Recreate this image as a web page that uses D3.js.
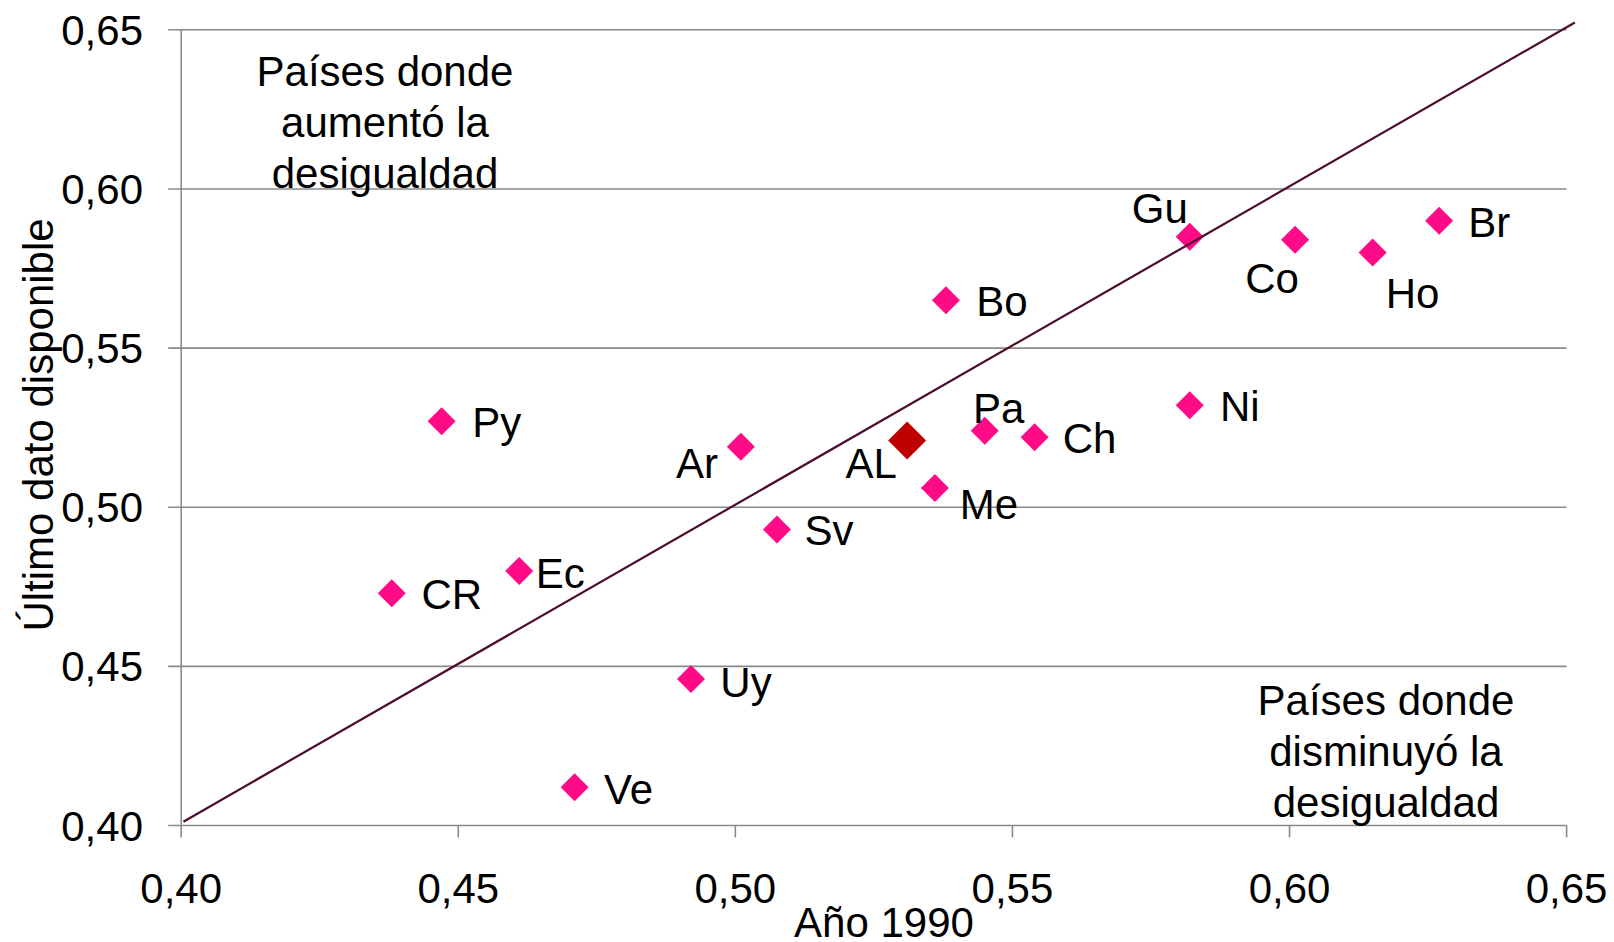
<!DOCTYPE html>
<html>
<head>
<meta charset="utf-8">
<script src="https://cdn.jsdelivr.net/npm/d3@7"></script>
<style>
  body { margin: 0; background: #fff; }
  text { font-family: "Liberation Sans", Arial, sans-serif; fill: #000; }
</style>
</head>
<body>
<div id="chart"></div>
<script>
// country codes and Gini values (1990 vs latest available)
var countries = ["Gu", "Co", "Ho", "Br", "Bo", "Ni", "Py", "Ar", "Pa", "Ch", "Me", "Sv", "Ec", "CR", "Uy", "Ve", "AL"];
var gini1990  = [0.582, 0.601, 0.615, 0.627, 0.538, 0.582, 0.447, 0.501, 0.545, 0.554, 0.536, 0.5075, 0.461, 0.438, 0.492, 0.471, 0.531];
var giniLast  = [0.585, 0.584, 0.580, 0.590, 0.565, 0.532, 0.527, 0.519, 0.524, 0.522, 0.506, 0.493, 0.480, 0.473, 0.446, 0.412, 0.521];

// equality reference line
var lineX = [0.4004, 0.6515];
var lineY = [0.4012, 0.6523];

var xTicks = [0.40, 0.45, 0.50, 0.55, 0.60, 0.65];
var yTicks = [0.40, 0.45, 0.50, 0.55, 0.60, 0.65];

// where each label sits relative to its marker (text centre)
var labelOffset = {
    Gu: [-30, -29], Co: [-23, 38], Ho: [40, 40], Br: [50, 1], Bo: [56, 1],
    Ni: [50, 1], Py: [55, 1], Ar: [-44, 16], Pa: [14, -23], Ch: [55, 1],
    Me: [54, 16], Sv: [52, 1], Ec: [41, 2], CR: [60, 1], Uy: [55, 3],
    Ve: [54, 2], AL: [-36, 23]
};

var width = 1614, height = 942;
var fmt = d => d.toFixed(2).replace(".", ",");

var svg = d3.select("#chart").append("svg")
    .attr("width", width)
    .attr("height", height);

var x = d3.scaleLinear().domain([0.40, 0.65]).range([181.2, 1566.6]);
var y = d3.scaleLinear().domain([0.40, 0.65]).range([825.5, 29.8]);

var grid = "#8a8a8a";

// horizontal gridlines + y ticks
svg.append("g")
    .selectAll("line")
    .data(yTicks)
    .join("line")
    .attr("x1", x(0.40) - 13)
    .attr("x2", x(0.65))
    .attr("y1", d => y(d))
    .attr("y2", d => y(d))
    .attr("stroke", grid)
    .attr("stroke-width", 1.6);

// y axis line
svg.append("line")
    .attr("x1", x(0.40)).attr("x2", x(0.40))
    .attr("y1", y(0.65)).attr("y2", y(0.40))
    .attr("stroke", grid).attr("stroke-width", 1.6);

// x ticks
svg.append("g")
    .selectAll("line")
    .data(xTicks)
    .join("line")
    .attr("x1", d => x(d))
    .attr("x2", d => x(d))
    .attr("y1", y(0.40))
    .attr("y2", y(0.40) + 12)
    .attr("stroke", grid)
    .attr("stroke-width", 1.6);

// tick labels
svg.append("g")
    .selectAll("text")
    .data(yTicks)
    .join("text")
    .attr("x", 143)
    .attr("y", d => y(d) + 15)
    .attr("text-anchor", "end")
    .style("font-size", "42px")
    .text(fmt);

svg.append("g")
    .selectAll("text")
    .data(xTicks)
    .join("text")
    .attr("x", d => x(d))
    .attr("y", 903)
    .attr("text-anchor", "middle")
    .style("font-size", "42px")
    .text(fmt);

// axis titles
svg.append("text")
    .attr("x", 884)
    .attr("y", 937)
    .attr("text-anchor", "middle")
    .style("font-size", "42px")
    .text("Año 1990");

svg.append("text")
    .attr("transform", "translate(53,425) rotate(-90)")
    .attr("text-anchor", "middle")
    .style("font-size", "42px")
    .text("Último dato disponible");

// annotations
var topNote = ["Países donde", "aumentó la", "desigualdad"];
var bottomNote = ["Países donde", "disminuyó la", "desigualdad"];

svg.append("g")
    .selectAll("text")
    .data(topNote)
    .join("text")
    .attr("x", 385)
    .attr("y", (d, i) => 86 + i * 51)
    .attr("text-anchor", "middle")
    .style("font-size", "42px")
    .text(d => d);

svg.append("g")
    .selectAll("text")
    .data(bottomNote)
    .join("text")
    .attr("x", 1386)
    .attr("y", (d, i) => 715 + i * 51)
    .attr("text-anchor", "middle")
    .style("font-size", "42px")
    .text(d => d);

// points
var points = countries.map((c, i) => ({ id: c, x: gini1990[i], y: giniLast[i] }));

svg.append("g")
    .selectAll("path")
    .data(points)
    .join("path")
    .attr("transform", d => "translate(" + x(d.x) + "," + y(d.y) + ")")
    .attr("d", d => {
        var r = d.id === "AL" ? 19 : 14;
        return "M0," + (-r) + "L" + r + ",0L0," + r + "L" + (-r) + ",0Z";
    })
    .attr("fill", d => d.id === "AL" ? "#c00000" : "#ff0a87");

// labels
svg.append("g")
    .selectAll("text")
    .data(points)
    .join("text")
    .attr("x", d => x(d.x) + labelOffset[d.id][0])
    .attr("y", d => y(d.y) + labelOffset[d.id][1] + 15)
    .attr("text-anchor", "middle")
    .style("font-size", "42px")
    .text(d => d.id);

// 45 degree line, drawn on top of the markers
svg.append("line")
    .attr("x1", x(lineX[0])).attr("y1", y(lineY[0]))
    .attr("x2", x(lineX[1])).attr("y2", y(lineY[1]))
    .attr("stroke", "#4e0a2f")
    .attr("stroke-width", 2.2);
</script>
</body>
</html>
